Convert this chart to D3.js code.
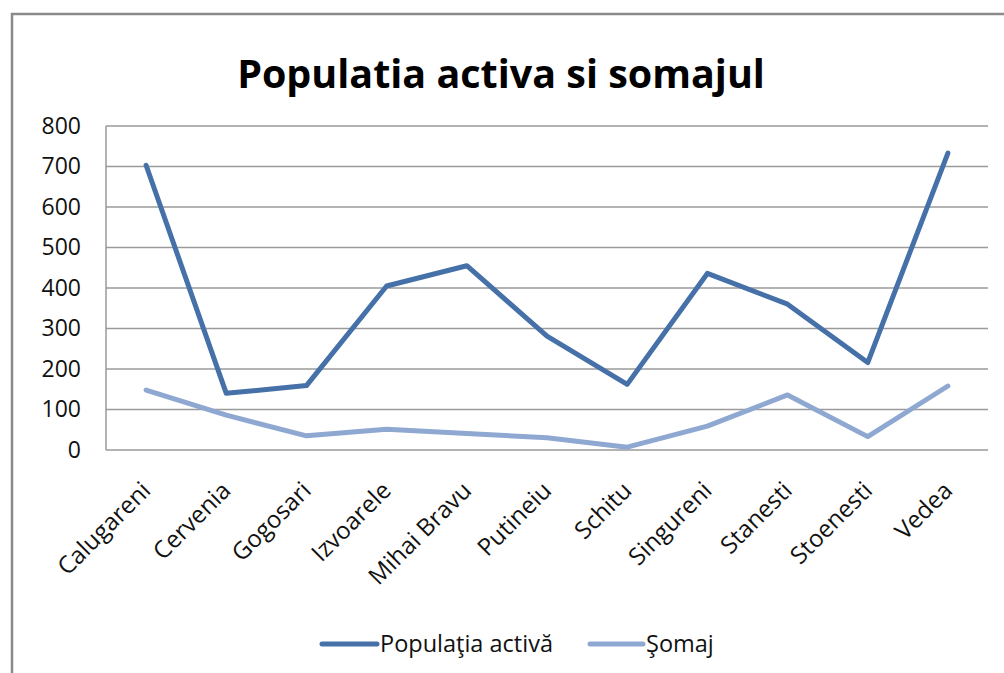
<!DOCTYPE html>
<html><head><meta charset="utf-8">
<script src="https://cdn.jsdelivr.net/npm/d3@7"></script>
<style>body{margin:0;background:#fff}svg{display:block}</style>
</head><body>
<svg id="c" width="1004" height="673"></svg>
<script>
const categories = ["Calugareni","Cervenia","Gogosari","Izvoarele","Mihai Bravu","Putineiu","Schitu","Singureni","Stanesti","Stoenesti","Vedea"];
const populatiaActiva = [703,140,159,405,455,281,162,436,360,216,733];
const somaj = [148,86,35,51,41,30,7,59,136,33,158];
const yTicks = [0,100,200,300,400,500,600,700,800];
const seriesNames = ["Populaţia activă","Şomaj"];
const title = "Populatia activa si somajul";

const svg = d3.select("#c");
const font = "'Open Sans', sans-serif";
const colors = ["#4570A8","#8EA8D2"];

// outer border
svg.append("rect").attr("x",12).attr("y",14).attr("width",1010).attr("height",700)
  .attr("fill","#fff").attr("stroke","#8a8a8a").attr("stroke-width",2.5);

const m = {left:106, right:988, top:126, bottom:450};
const x = d3.scaleBand().domain(categories).range([m.left,m.right]);
const y = d3.scaleLinear().domain([0,800]).range([m.bottom,m.top]);

// gridlines
svg.append("g").selectAll("line").data(yTicks).join("line")
  .attr("x1",m.left).attr("x2",m.right)
  .attr("y1",d=>y(d)).attr("y2",d=>y(d))
  .attr("stroke","#9a9a9a").attr("stroke-width",1.5);
svg.append("line").attr("x1",m.left).attr("x2",m.left).attr("y1",m.top).attr("y2",m.bottom)
  .attr("stroke","#9a9a9a").attr("stroke-width",1.5);

// y axis labels
const yAxis = svg.append("g").attr("transform",`translate(${m.left},0)`)
  .call(d3.axisLeft(y).tickValues(yTicks).tickSize(0).tickPadding(25));
yAxis.select(".domain").remove();
yAxis.selectAll("text").attr("font-family",font).attr("font-size",23).attr("fill","#111");

// x axis labels
const xAxis = svg.append("g").attr("transform",`translate(0,${m.bottom})`)
  .call(d3.axisBottom(x).tickSize(0).tickPadding(0));
xAxis.select(".domain").remove();
xAxis.selectAll("text").attr("font-family",font).attr("font-size",24).attr("fill","#111")
  .attr("text-anchor","end")
  .attr("y",0).attr("dy",0)
  .attr("transform","translate(6,42) rotate(-45)");

// lines
const line = d3.line().x((d,i)=>x(categories[i])+x.bandwidth()/2).y(d=>y(d));
[populatiaActiva, somaj].forEach((s,k)=>{
  svg.append("path").datum(s).attr("d",line).attr("fill","none")
    .attr("stroke",colors[k]).attr("stroke-width",5)
    .attr("stroke-linejoin","round").attr("stroke-linecap","round");
});

// title
const t = svg.append("text").attr("x",501).attr("y",88).attr("text-anchor","middle")
  .attr("font-family",font).attr("font-weight","bold").attr("font-size",40).attr("fill","#000")
  .text(title);
const w = t.node().getComputedTextLength();
t.attr("font-size", 40*528/w);

// legend
const legend = [{x1:322,x2:377,tx:380},{x1:590,x2:643,tx:646}];
legend.forEach((L,k)=>{
  svg.append("line").attr("x1",L.x1).attr("x2",L.x2).attr("y1",644).attr("y2",644)
    .attr("stroke",colors[k]).attr("stroke-width",5).attr("stroke-linecap","round");
  svg.append("text").attr("x",L.tx).attr("y",652).attr("font-family",font).attr("font-size",23.5)
    .attr("fill","#111").text(seriesNames[k]);
});
</script>
</body></html>
